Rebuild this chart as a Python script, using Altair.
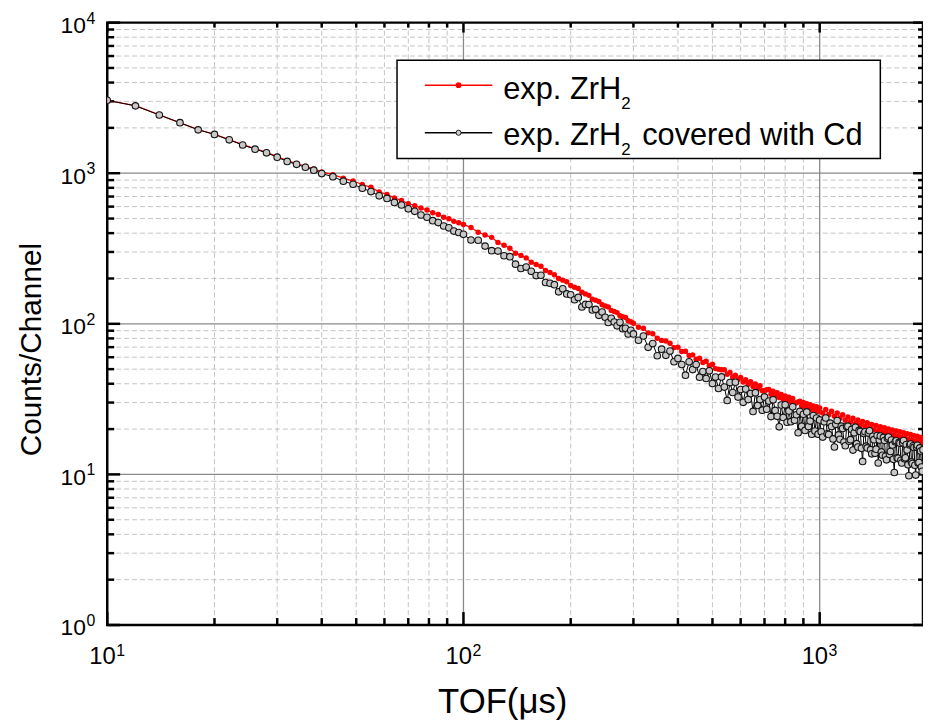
import altair as alt
import pandas as pd

# ---------------- data (TOF channels in microseconds) ----------------
tof_a = list(range(10, 40, 2))
tof_b = list(range(40, 100, 3))
tof_c = list(range(100, 300, 5))
tof_d = list(range(300, 1000, 10))
tof_e = list(range(1000, 1961, 20))     # red, high-TOF part
tof_f = list(range(1000, 1951, 10))     # black, high-TOF part

# exp. ZrH2 (red)
red_a = [3040, 2810, 2445, 2160, 1950, 1815, 1672, 1548, 1455, 1378, 1290, 1212, 1160, 1112, 1068]
red_b = [1020, 978, 928, 887, 842, 806, 752, 722, 686, 659, 628, 608, 588, 570, 546, 532, 510, 498, 479, 469]
red_c = [457, 436, 405, 389, 375, 346.5, 332, 317.5, 294.5, 284.6, 274, 256.4, 248, 241, 225.7, 219, 212, 200,
         195, 190, 179.7, 175, 171.5, 161.8, 158, 154.5, 145.8, 143.6, 140.7, 133.8, 131.3, 129.5, 122.8, 120.7,
         118.7, 113.3, 111.4, 110.2, 104.8, 103.3]
red_d = [101.0, 94.8, 93.5, 87.1, 85.9, 80.1, 77.6, 76.9, 74.2, 69.5, 70.0, 65.5, 65.8, 61.6, 62.2, 58.1, 59.0,
         55.3, 56.4, 52.7, 53.9, 50.4, 49.9, 49.6, 49.6, 46.3, 47.5, 44.3, 45.6, 42.6, 44.0, 41.1, 42.5, 39.7,
         41.3, 38.4, 39.9, 37.1, 38.8, 36.0, 36.0, 36.5, 36.6, 34.1, 35.7, 33.2, 34.9, 32.4, 33.9, 31.6, 33.2,
         31.0, 32.5, 30.3, 31.9, 29.6, 29.9, 30.3, 30.6, 28.5, 30.0, 28.0, 29.5, 27.5, 29.0, 27.0, 28.5, 26.6,
         28.1, 26.2]
red_e = [27.6, 25.6, 27.0, 24.9, 26.3, 24.3, 25.6, 23.6, 24.9, 22.9, 24.1, 22.3, 23.6, 21.8, 23.0, 21.3, 22.5,
         20.8, 22.0, 20.3, 21.5, 19.8, 21.1, 19.4, 20.7, 19.1, 20.4, 18.7, 20.0, 18.4, 19.7, 18.1, 19.4, 17.8,
         19.2, 17.5, 18.9, 17.3, 18.6, 17.0, 18.4, 16.8, 18.1, 16.6, 17.9, 16.4, 17.6, 16.2, 17.3]

# exp. ZrH2 covered with Cd (black)
blk_a = [3050, 2800, 2435, 2165, 1940, 1810, 1665, 1540, 1445, 1365, 1278, 1198, 1145, 1095, 1048]
blk_b = [995, 948, 886, 845, 795, 755, 708, 680, 640, 615, 580, 558, 528, 510, 484, 470, 446, 434, 413, 404]
blk_c = [393, 360, 359, 328, 306, 304, 283, 279, 249, 233, 238, 223, 209, 210, 188, 186, 182, 163, 171, 158,
         156, 144.5, 149.7, 129.3, 134.5, 134.2, 123.5, 124.7, 113.8, 119.8, 110.6, 102, 108.7, 102.8, 97,
         102.3, 92.9, 93.4, 85.6, 90.6]
blk_d = [85.7, 77.8, 83.0, 69.8, 73.9, 61.4, 67.9, 61.8, 65.9, 56.0, 58.9, 53.7, 45.6, 55.9, 49.7, 53.7, 44.2,
         48.2, 43.4, 48.7, 40.1, 44.3, 37.2, 44.4, 38.0, 31.0, 40.7, 35.0, 40.9, 32.6, 36.6, 30.1, 36.9, 31.4,
         34.5, 26.2, 34.9, 28.7, 31.4, 26.7, 32.7, 27.1, 30.7, 24.2, 31.3, 26.6, 24.3, 20.7, 28.9, 23.9, 29.0,
         22.2, 26.4, 22.4, 28.1, 22.9, 24.9, 18.9, 26.2, 20.9, 25.1, 19.6, 26.0, 20.8, 22.6, 18.5, 24.6, 19.4,
         23.7, 18.5]
blk_f = [23.0, 19.2, 17.7, 22.4, 23.7, 18.6, 18.4, 21.9, 20.8, 17.2, 15.2, 21.5, 22.8, 18.3, 17.1, 20.9,
         20.2, 16.4, 15.5, 20.8, 20.9, 16.6, 17.0, 19.9, 14.5, 18.9, 20.6, 16.0, 15.2, 19.6, 19.3, 14.9,
         12.2, 18.7, 19.2, 15.4, 15.0, 18.8, 19.5, 14.6, 13.7, 17.9, 17.0, 13.8, 14.7, 18.1, 11.9, 16.9,
         18.0, 14.1, 13.4, 17.6, 16.8, 13.2, 12.5, 17.4, 17.7, 13.6, 14.2, 16.9, 15.7, 12.6, 10.3, 16.5,
         16.7, 12.9, 12.8, 16.3, 16.1, 12.4, 11.9, 16.2, 16.8, 12.7, 12.9, 15.8, 14.5, 11.6, 9.8, 15.7,
         15.9, 12.1, 11.8, 15.5, 15.1, 11.5, 9.9, 15.2, 15.6, 11.9, 12.0, 15.0, 14.3, 11.2, 10.5, 14.6]

# tick / grid values and their label pieces
x_major = [10, 100, 1000]
x_exp = ["1", "2", "3"]
x_minor = [20, 30, 40, 50, 60, 70, 80, 90, 200, 300, 400, 500, 600, 700, 800, 900]
y_major = [1, 10, 100, 1000, 10000]
y_exp = ["0", "1", "2", "3", "4"]
y_minor = [2, 3, 4, 5, 6, 7, 8, 9, 20, 30, 40, 50, 60, 70, 80, 90,
           200, 300, 400, 500, 600, 700, 800, 900, 2000, 3000, 4000, 5000, 6000, 7000, 8000, 9000]

legend_main = ["exp. ZrH", "exp. ZrH"]
legend_sub = ["2", "2"]
legend_tail = "covered with Cd"

# ---------------- chart ----------------
df_red = pd.DataFrame({"t": tof_a + tof_b + tof_c + tof_d + tof_e,
                       "c": red_a + red_b + red_c + red_d + red_e})
df_blk = pd.DataFrame({"t": tof_a + tof_b + tof_c + tof_d + tof_f,
                       "c": blk_a + blk_b + blk_c + blk_d + blk_f})

W, H = 822, 607
FONT = "Liberation Sans, Arial, Helvetica, sans-serif"

xs = alt.Scale(type="log", domain=[10, 1950], nice=False)
ys = alt.Scale(type="log", domain=[1, 10000], nice=False)

x_axis = alt.Axis(values=x_major, labelExpr="'10'", grid=False, ticks=False, domain=False,
                  labelFont=FONT, labelFontSize=24, labelColor="black", labelPadding=20,
                  labelAlign="right", labelOffset=8,
                  labelOverlap=False, labelFlush=False,
                  title="TOF(\u03bcs)", titleFont=FONT, titleFontSize=35, titleFontWeight="normal",
                  titleColor="black", titleX=398, titleY=88, titleAlign="center",
                  titleBaseline="alphabetic")
y_axis = alt.Axis(values=y_major, labelExpr="'10'", grid=False, ticks=False, domain=False,
                  labelFont=FONT, labelFontSize=23, labelColor="black", labelPadding=22,
                  labelOverlap=False, labelFlush=False, labelBaseline="middle", labelOffset=3,
                  title="Counts/Channel", titleFont=FONT, titleFontSize=30, titleFontWeight="normal",
                  titleColor="black", titleX=-67, titleY=329, titleAlign="center",
                  titleBaseline="alphabetic", titleAngle=270)


def X(f):
    return alt.X(f, scale=xs, axis=x_axis)


def Y(f):
    return alt.Y(f, scale=ys, axis=y_axis)


def vals(v):
    return pd.DataFrame({"v": v})


layers = []
# grid
layers.append(alt.Chart(vals(x_minor)).mark_rule(color="#c4c4c4", strokeDash=[5, 3], strokeWidth=1)
              .encode(x=X("v:Q")))
layers.append(alt.Chart(vals(y_minor)).mark_rule(color="#c4c4c4", strokeDash=[5, 3], strokeWidth=1)
              .encode(y=Y("v:Q")))
layers.append(alt.Chart(vals([100, 1000])).mark_rule(color="#8a8a8a", strokeWidth=1.3)
              .encode(x=X("v:Q")))
layers.append(alt.Chart(vals([10, 100, 1000])).mark_rule(color="#8a8a8a", strokeWidth=1.3)
              .encode(y=Y("v:Q")))


# inward ticks
def yticks(v, x0, x1):
    return (alt.Chart(vals(v)).mark_rule(color="black", strokeWidth=2.5)
            .encode(y=Y("v:Q"), x=alt.value(x0), x2=alt.value(x1)))


def xticks(v, y0, y1):
    return (alt.Chart(vals(v)).mark_rule(color="black", strokeWidth=2.5)
            .encode(x=X("v:Q"), y=alt.value(y0), y2=alt.value(y1)))


layers += [yticks(y_major, 0, 13), yticks(y_minor, 0, 7),
           yticks(y_major, W, W - 10), yticks(y_minor, W, W - 5),
           xticks(x_major, H, H - 13), xticks(x_minor, H, H - 7),
           xticks(x_major, 0, 10), xticks(x_minor, 0, 5)]

# exponents of the decade labels
layers.append(alt.Chart(pd.DataFrame({"v": y_major, "e": y_exp}))
              .mark_text(align="left", baseline="alphabetic", font=FONT, fontSize=16, color="black", dy=1)
              .encode(y=Y("v:Q"), x=alt.value(-21), text="e:N"))
layers.append(alt.Chart(pd.DataFrame({"v": x_major, "e": x_exp}))
              .mark_text(align="left", baseline="alphabetic", font=FONT, fontSize=16, color="black", dx=9)
              .encode(x=X("v:Q"), y=alt.value(H + 31), text="e:N"))

# data series
layers.append(alt.Chart(df_red).mark_line(color="#ff0000", strokeWidth=1.2, clip=True)
              .encode(x=X("t:Q"), y=Y("c:Q")))
layers.append(alt.Chart(df_red).mark_point(shape="circle", filled=True, color="#ff0000", size=30,
                                           opacity=1, clip=True)
              .encode(x=X("t:Q"), y=Y("c:Q")))
layers.append(alt.Chart(df_blk).mark_line(color="#000000", strokeWidth=1, clip=True)
              .encode(x=X("t:Q"), y=Y("c:Q")))
layers.append(alt.Chart(df_blk).mark_point(shape="circle", filled=True, fill="#c8c8c8", stroke="#141414",
                                           strokeWidth=1.1, size=44, opacity=1, clip=True)
              .encode(x=X("t:Q"), y=Y("c:Q")))

# legend
one = pd.DataFrame({"k": [0]})
layers.append(alt.Chart(one).mark_rect(fill="white", stroke="black", strokeWidth=1.5)
              .encode(x=alt.value(292), x2=alt.value(779), y=alt.value(38), y2=alt.value(137)))
layers.append(alt.Chart(one).mark_rule(color="#ff0000", strokeWidth=1.5)
              .encode(x=alt.value(320), x2=alt.value(388), y=alt.value(63)))
layers.append(alt.Chart(one).mark_point(shape="circle", filled=True, color="#ff0000", size=34, opacity=1)
              .encode(x=alt.value(354), y=alt.value(63)))
layers.append(alt.Chart(one).mark_rule(color="#000000", strokeWidth=1.5)
              .encode(x=alt.value(320), x2=alt.value(388), y=alt.value(111)))
layers.append(alt.Chart(one).mark_point(shape="circle", filled=True, fill="#d0d0d0", stroke="#1a1a1a",
                                        strokeWidth=1, size=26, opacity=1)
              .encode(x=alt.value(354), y=alt.value(111)))
for main, sub, yy in zip(legend_main, legend_sub, [77, 123]):
    layers.append(alt.Chart(one).mark_text(align="left", baseline="alphabetic", font=FONT, fontSize=31,
                                           color="black")
                  .encode(x=alt.value(399), y=alt.value(yy), text=alt.value(main)))
    layers.append(alt.Chart(one).mark_text(align="left", baseline="alphabetic", font=FONT, fontSize=17,
                                           color="black")
                  .encode(x=alt.value(518), y=alt.value(yy + 10), text=alt.value(sub)))
layers.append(alt.Chart(one).mark_text(align="left", baseline="alphabetic", font=FONT, fontSize=31,
                                       color="black")
              .encode(x=alt.value(539), y=alt.value(123), text=alt.value(legend_tail)))

chart = (alt.layer(*layers)
         .properties(width=W, height=H, autosize=alt.AutoSizeParams(type="none"),
                     padding={"left": 100, "top": 12, "right": 0, "bottom": 94})
         .configure_view(stroke="black", strokeWidth=2.5))

chart.save("out.html", embed_options={"renderer": "svg", "actions": False})
